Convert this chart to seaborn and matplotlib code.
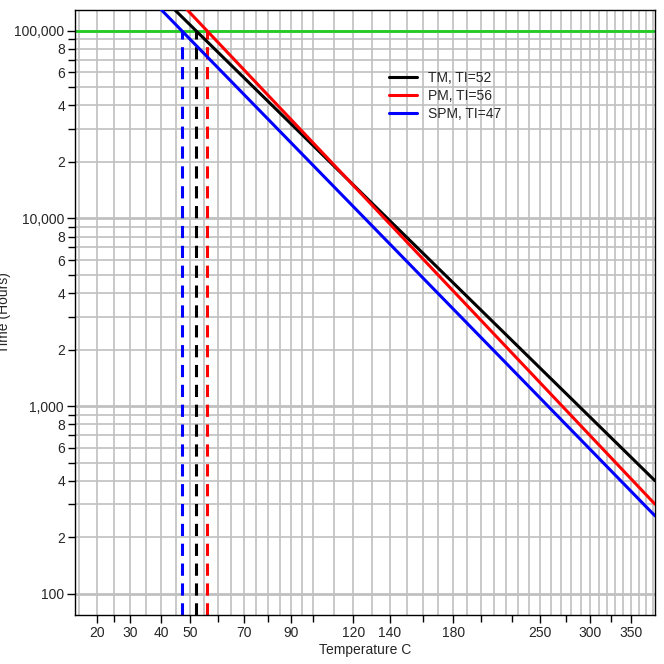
import numpy as np
import pandas as pd
import matplotlib
matplotlib.use("Agg")
import matplotlib.pyplot as plt
import matplotlib.ticker as mticker
import seaborn as sns

# ─── Data ────────────────────────────────────────────────────────────────────
series_names = ["TM, TI=52", "PM, TI=56", "SPM, TI=47"]
series_colors = ["black", "red", "blue"]
thermal_index = [52, 56, 47]
line_temps = [[40, 383], [40, 383], [35, 383]]
line_hours = [[152000, 400], [181000, 300], [157000, 260]]

x_tick_labels = [20, 30, 40, 50, 70, 90, 120, 140, 180, 250, 300, 350]
x_minor_grid = list(range(10, 100, 5)) + list(range(100, 390, 10))
life_hours = 100000

rows = []
for name, temps, hours in zip(series_names, line_temps, line_hours):
    for t, h in zip(temps, hours):
        rows.append({"series": name, "temp": t, "hours": h})
df = pd.DataFrame(rows)

sns.set_style("white")
plt.rcParams["font.family"] = "Liberation Sans"
fig = plt.figure(figsize=(6.64, 6.64), dpi=100)
ax = fig.add_axes([75 / 664, 49 / 664, 580 / 664, 605 / 664])


def fwd(t):
    return -1000.0 / (np.asarray(t, dtype=float) + 273.0)


def inv(v):
    return -1000.0 / np.asarray(v, dtype=float) - 273.0


ax.set_xscale("function", functions=(fwd, inv))
ax.set_yscale("log")
ax.set_xlim(13.8, 383)
ax.set_ylim(77, 129000)

# ─── Grid ────────────────────────────────────────────────────────────────────
for t in x_minor_grid:
    ax.axvline(t, color="#c0c0c0", lw=1.2, zorder=0)
for dec in [100, 1000, 10000]:
    for m in range(2, 10):
        ax.axhline(dec * m, color="#c0c0c0", lw=1.2, zorder=0)
for dec in [100, 1000, 10000, 100000]:
    ax.axhline(dec, color="#c0c0c0", lw=2, zorder=0)

ax.axhline(life_hours, color="#22cc22", lw=2, zorder=1)

sns.lineplot(data=df, x="temp", y="hours", hue="series", palette=series_colors,
             hue_order=series_names, lw=2.2, ax=ax, zorder=3)
for ti, c in zip(thermal_index, series_colors):
    ax.plot([ti, ti], [77, life_hours], color=c, lw=2.2, ls=(0, (4, 2.5)), zorder=2)

# ─── Ticks ───────────────────────────────────────────────────────────────────
ax.set_xticks(x_tick_labels)
ax.set_xticklabels([str(v) for v in x_tick_labels])
ax.xaxis.set_minor_locator(mticker.FixedLocator([25, 60, 80, 100, 160, 200, 225, 275, 325]))
ax.set_yticks([100, 1000, 10000, 100000])
ax.set_yticklabels(["100", "1,000", "10,000", "100,000"])
minor_y = [d * m for d in [100, 1000, 10000] for m in range(2, 10)]
ax.yaxis.set_minor_locator(mticker.FixedLocator(minor_y))
ax.yaxis.set_minor_formatter(mticker.FuncFormatter(
    lambda v, p: str(int(round(v / 10 ** np.floor(np.log10(v))))) if round(v / 10 ** np.floor(np.log10(v))) in (2, 4, 6, 8) else ""))
ax.tick_params(which="both", direction="out", labelsize=10, length=6, width=1,
               bottom=True, left=True, color="black", pad=2)
ax.tick_params(which="minor", length=5)
for s in ax.spines.values():
    s.set_color("black")
    s.set_linewidth(1)

ax.set_xlabel("Temperature C", fontsize=10, labelpad=2)
ax.set_ylabel("Time (Hours)", fontsize=10, labelpad=2)

ax.legend(loc="upper left", bbox_to_anchor=(0.52, 0.92), frameon=False,
          fontsize=10, handlelength=2, labelspacing=0.3)

fig.savefig("out.png", dpi=100)
